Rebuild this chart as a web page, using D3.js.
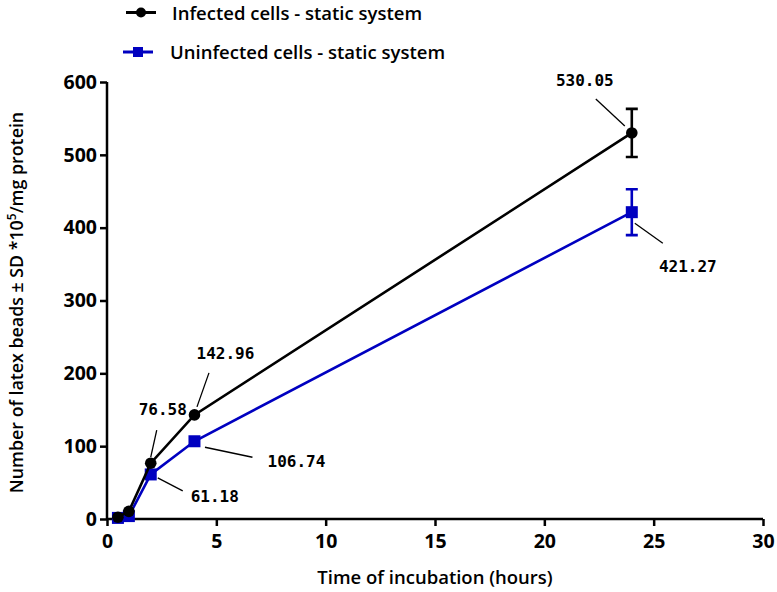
<!DOCTYPE html>
<html><head><meta charset="utf-8">
<script src="https://cdn.jsdelivr.net/npm/d3@7"></script>
<style>body{margin:0;background:#fff}svg{display:block}</style>
</head><body>
<svg id="chart" width="777" height="592"></svg>
<script>
// ---- data ----
const hours = [0.5, 1, 2, 4, 24];
const infected = [2.5, 10.5, 76.58, 142.96, 530.05];
const infectedSD = [0, 0, 0, 0, 33];
const uninfected = [1.5, 4, 61.18, 106.74, 421.27];
const uninfectedSD = [0, 0, 0, 0, 31.5];
const xTicks = [0, 5, 10, 15, 20, 25, 30];
const yTicks = [0, 100, 200, 300, 400, 500, 600];
const seriesNames = ["Infected cells - static system", "Uninfected cells - static system"];
const labelledInfected = [2, 3, 4];     // indices with value labels
const labelledUninfected = [2, 3, 4];

// ---- layout / styles (not data) ----
const annInf = { // offsets relative to point: leader x1,y1,x2,y2 ; text cx, baseline
  2: [6, -33, 0, -6, 12, -48],
  3: [14.5, -42, 2.5, -8, 31, -56],
  4: [-7, -7, -36, -34, -47, -47]
};
const annUn = {
  2: [7, 3.5, 32, 16.5, 64, 27.5],
  3: [10.5, 6, 58, 16, 102, 26],
  4: [3, 11, 31, 31, 56, 60]
};
const BLUE = "#0000c0";
const FONT = "'Open Sans', 'DejaVu Sans', sans-serif";
const MONO = "'DejaVu Sans Mono', monospace";

const svg = d3.select("#chart");
const x = d3.scaleLinear().domain([0, 30]).range([107, 763]);
const y = d3.scaleLinear().domain([0, 600]).range([519, 82]);

// axes
const xAxis = svg.append("g").attr("transform", `translate(0,${y(0)})`)
  .call(d3.axisBottom(x).tickValues(xTicks).tickSize(7).tickPadding(8).tickFormat(d3.format("d")));
const yAxis = svg.append("g").attr("transform", `translate(${x(0)},0)`)
  .call(d3.axisLeft(y).tickValues(yTicks).tickSize(7).tickPadding(3).tickFormat(d3.format("d")));
[xAxis, yAxis].forEach(a => {
  a.select(".domain").attr("stroke", "#000").attr("stroke-width", 2.5)
    .attr("d", a === xAxis ? `M${x(0)},0H${x(30)}` : `M0,${y(0)}V${y(600)}`);
  a.selectAll(".tick line").attr("stroke", "#000").attr("stroke-width", 2.5);
  a.selectAll(".tick text").attr("fill", "#000").attr("font-family", FONT)
    .attr("font-size", 19.5).attr("font-weight", 700);
});

// axis titles
svg.append("text").attr("x", (x(0) + x(30)) / 2).attr("y", 584)
  .attr("text-anchor", "middle").attr("font-family", FONT).attr("font-size", 18.5)
  .attr("font-weight", 600).text("Time of incubation (hours)");
const yt = svg.append("text").attr("transform", `translate(23,${(y(0)+y(600))/2 + 2}) rotate(-90)`)
  .attr("text-anchor", "middle").attr("font-family", FONT).attr("font-size", 17.8)
  .attr("font-weight", 600);
yt.append("tspan").text("Number of latex beads \u00b1 SD *10");
yt.append("tspan").attr("dy", -7).attr("font-size", 12).text("5");
yt.append("tspan").attr("dy", 7).text("/mg protein");

const line = d3.line().x(d => x(d[0])).y(d => y(d[1]));

function drawSeries(vals, sds, color, shape) {
  const pts = hours.map((h, i) => [h, vals[i], sds[i]]);
  const g = svg.append("g");
  g.append("path").attr("d", line(pts)).attr("fill", "none")
    .attr("stroke", color).attr("stroke-width", 2.6);
  pts.filter(p => p[2] > 0).forEach(p => {
    const cx = x(p[0]);
    g.append("path").attr("fill", "none").attr("stroke", color).attr("stroke-width", 2.6)
      .attr("d", `M${cx},${y(p[1]-p[2])}V${y(p[1]+p[2])}M${cx-6},${y(p[1]+p[2])}H${cx+6}M${cx-6},${y(p[1]-p[2])}H${cx+6}`);
  });
  pts.forEach(p => {
    if (shape === "circle") g.append("circle").attr("cx", x(p[0])).attr("cy", y(p[1])).attr("r", 5.8).attr("fill", color);
    else g.append("rect").attr("x", x(p[0]) - 6).attr("y", y(p[1]) - 6).attr("width", 12).attr("height", 12).attr("fill", color);
  });
}
drawSeries(uninfected, uninfectedSD, BLUE, "square");
drawSeries(infected, infectedSD, "#000", "circle");

function annotate(vals, idxs, offs) {
  idxs.forEach(i => {
    const px = x(hours[i]), py = y(vals[i]), o = offs[i];
    svg.append("line").attr("x1", px + o[0]).attr("y1", py + o[1]).attr("x2", px + o[2]).attr("y2", py + o[3])
      .attr("stroke", "#000").attr("stroke-width", 1.3);
    svg.append("text").attr("x", px + o[4]).attr("y", py + o[5]).attr("text-anchor", "middle")
      .attr("font-family", MONO).attr("font-weight", "bold").attr("font-size", 16)
      .text(d3.format(".2f")(vals[i]));
  });
}
annotate(infected, labelledInfected, annInf);
annotate(uninfected, labelledUninfected, annUn);

// legend
const leg = svg.append("g");
[[seriesNames[0], "#000", "circle", 12.5], [seriesNames[1], BLUE, "square", 52]].forEach(([name, c, s, ly], k) => {
  const lx0 = k === 0 ? 126 : 123;
  leg.append("line").attr("x1", lx0).attr("x2", lx0 + 30).attr("y1", ly).attr("y2", ly)
    .attr("stroke", c).attr("stroke-width", 3);
  if (s === "circle") leg.append("circle").attr("cx", lx0 + 15).attr("cy", ly).attr("r", 5).attr("fill", c);
  else leg.append("rect").attr("x", lx0 + 10).attr("y", ly - 5).attr("width", 10).attr("height", 10).attr("fill", c);
  leg.append("text").attr("x", k === 0 ? 172 : 170).attr("y", ly + 7).attr("font-family", FONT)
    .attr("font-size", 18.5).attr("font-weight", 600).text(name);
});
</script>
</body></html>
